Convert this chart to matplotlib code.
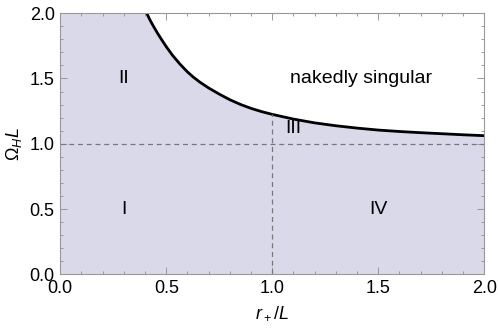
import matplotlib
matplotlib.use("Agg")
import matplotlib.pyplot as plt
from matplotlib.ticker import MultipleLocator, FormatStrFormatter

plt.rcParams['font.family'] = ['Liberation Sans', 'DejaVu Sans']
plt.rcParams['mathtext.fontset'] = 'custom'
plt.rcParams['mathtext.rm'] = 'Liberation Sans'
plt.rcParams['mathtext.it'] = 'Liberation Sans:italic'

# boundary curve
r_vals = [0.408, 0.42, 0.44, 0.46, 0.48, 0.50, 0.53, 0.565, 0.60, 0.627,
          0.66, 0.70, 0.75, 0.80, 0.85, 0.90, 0.95, 1.0, 1.1, 1.2,
          1.3, 1.4, 1.5, 1.6, 1.7, 1.8, 1.9, 2.0]
omega_vals = [2.0, 1.957, 1.898, 1.843, 1.792, 1.743, 1.676, 1.609, 1.550, 1.511,
              1.470, 1.427, 1.380, 1.337, 1.301, 1.271, 1.246, 1.225, 1.189, 1.160,
              1.138, 1.120, 1.105, 1.094, 1.085, 1.077, 1.069, 1.062]

region_labels = ["I", "II", "III", "IV", "nakedly singular"]
region_pos = [(0.30, 0.5), (0.30, 1.5), (1.10, 1.115), (1.50, 0.5), (1.42, 1.5)]

fig = plt.figure(figsize=(4.98, 3.33), dpi=100)
ax = fig.add_axes([0.121, 0.1757, 0.8514, 0.785])

fill_r = [0.0] + r_vals
fill_o = [2.0] + omega_vals
ax.fill_between(fill_r, 0, fill_o, color='#d9d9ea', lw=0)
ax.plot(r_vals, omega_vals, color='black', lw=2.0, solid_capstyle='butt',
        solid_joinstyle='round')

ax.axhline(1.0, color='#777777', lw=0.9, ls=(0, (4, 3)))
ax.plot([1.0, 1.0], [0, 1.225], color='#777777', lw=0.9, ls=(0, (4, 3)))

for t, (x, y) in zip(region_labels, region_pos):
    ax.text(x, y, t, fontsize=14, ha='center', va='center')

ax.set_xlim(0, 2)
ax.set_ylim(0, 2)
ax.xaxis.set_major_locator(MultipleLocator(0.5))
ax.xaxis.set_minor_locator(MultipleLocator(0.1))
ax.yaxis.set_major_locator(MultipleLocator(0.5))
ax.yaxis.set_minor_locator(MultipleLocator(0.1))
ax.xaxis.set_major_formatter(FormatStrFormatter('%.1f'))
ax.yaxis.set_major_formatter(FormatStrFormatter('%.1f'))
ax.tick_params(which='both', direction='in', top=True, right=True,
               color='#999999', width=0.7, labelsize=13)
ax.tick_params(which='major', length=5, pad=4)
ax.tick_params(which='minor', length=2.5)
for s in ax.spines.values():
    s.set_color('#999999')
    s.set_linewidth(0.8)

ax.set_xlabel(r'$r_+/L$', fontsize=13, labelpad=5)
ax.set_ylabel(r'$\Omega_H L$', fontsize=13, labelpad=4)

fig.savefig('out.png', dpi=100)
